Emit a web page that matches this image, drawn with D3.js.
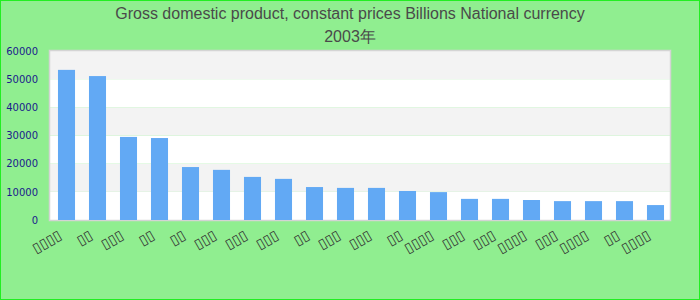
<!DOCTYPE html>
<html>
<head>
<meta charset="utf-8">
<script src="https://cdn.jsdelivr.net/npm/d3@7"></script>
<style>
  body { margin: 0; padding: 0; }
</style>
</head>
<body>
<script>
var width = 700,
    height = 300,
    margin = {top: 51, right: 30, bottom: 80, left: 50};

// data (labels render as missing-glyph boxes there)
var titleLines = ["Gross domestic product, constant prices Billions National currency", "2003年"];
var categories = ["▯▯▯▯", "▯▯", "▯▯▯", "▯▯", "▯▯", "▯▯▯", "▯▯▯", "▯▯▯", "▯▯", "▯▯▯",
                  "▯▯▯", "▯▯", "▯▯▯▯", "▯▯▯", "▯▯▯", "▯▯▯▯", "▯▯▯", "▯▯▯▯", "▯▯", "▯▯▯▯"];
var values = [53300, 51100, 29500, 29100, 18800, 17800, 15300, 14600, 11700, 11400,
              11400, 10300, 9900, 7500, 7500, 7100, 6700, 6700, 6700, 5300];
var yTicks = [0, 10000, 20000, 30000, 40000, 50000, 60000];

var svg = d3.select("body")
            .append("svg")
            .attr("width", width)
            .attr("height", height);

// background + outer border
svg.append("rect")
   .attr("x", 0.5).attr("y", 0.5)
   .attr("width", width - 1).attr("height", height - 1)
   .attr("fill", "#90ee90")
   .attr("stroke", "#22ee22");

var plotL = margin.left,
    plotR = width - margin.right,
    plotT = margin.top,
    plotB = height - margin.bottom;

var x = d3.scaleBand()
          .domain(d3.range(categories.length))
          .range([plotL + 1, plotR + 1])
          .paddingInner(0.45)
          .paddingOuter(0.225);

var y = d3.scaleLinear()
          .domain([0, 60000])
          .range([plotB, plotT]);

// alternating bands
var bands = d3.pairs(yTicks);
svg.append("g").selectAll("rect")
   .data(bands)
   .enter().append("rect")
   .attr("x", plotL)
   .attr("width", plotR - plotL)
   .attr("y", function(d) { return y(d[1]); })
   .attr("height", function(d) { return y(d[0]) - y(d[1]); })
   .attr("fill", function(d, i) { return i % 2 ? "#f3f3f3" : "#ffffff"; });

svg.append("rect")
   .attr("x", plotL - 0.5).attr("y", plotT - 0.5)
   .attr("width", plotR - plotL + 1).attr("height", plotB - plotT + 1)
   .attr("fill", "none")
   .attr("stroke", "#d4d4d4")
   .attr("stroke-width", 1.5);

// bars
svg.append("g").selectAll("rect")
   .data(values)
   .enter().append("rect")
   .attr("x", function(d, i) { return x(i); })
   .attr("width", x.bandwidth())
   .attr("y", function(d) { return y(d); })
   .attr("height", function(d) { return y(0) - y(d); })
   .attr("fill", "#62a9f4");

// y axis labels
var yAxis = d3.axisLeft(y).tickValues(yTicks).tickFormat(d3.format("d")).tickSize(0).tickPadding(12);
var yg = svg.append("g")
   .attr("transform", "translate(" + plotL + ",0)")
   .call(yAxis);
yg.select(".domain").remove();
yg.selectAll("text")
  .attr("fill", "#1a1a8c")
  .style("font-family", "DejaVu Sans")
  .style("font-size", "10px");

// x axis labels, rotated
var xAxis = d3.axisBottom(x).tickFormat(function(i) { return categories[i]; }).tickSize(0);
var xg = svg.append("g")
   .attr("transform", "translate(0," + plotB + ")")
   .call(xAxis);
xg.select(".domain").remove();
xg.selectAll("text")
  .attr("y", 0).attr("dy", 0)
  .attr("transform", "translate(-4,18) rotate(-30)")
  .style("text-anchor", "end")
  .attr("fill", "#333")
  .style("font-family", "DejaVu Sans")
  .style("font-size", "14px");

// title
svg.append("g").selectAll("text")
   .data(titleLines)
   .enter().append("text")
   .attr("x", width / 2)
   .attr("y", function(d, i) { return 19 + i * 23; })
   .attr("text-anchor", "middle")
   .attr("fill", "#4a4a4a")
   .style("font-family", "Liberation Sans")
   .style("font-size", "16px")
   .text(function(d) { return d; });
</script>
</body>
</html>
